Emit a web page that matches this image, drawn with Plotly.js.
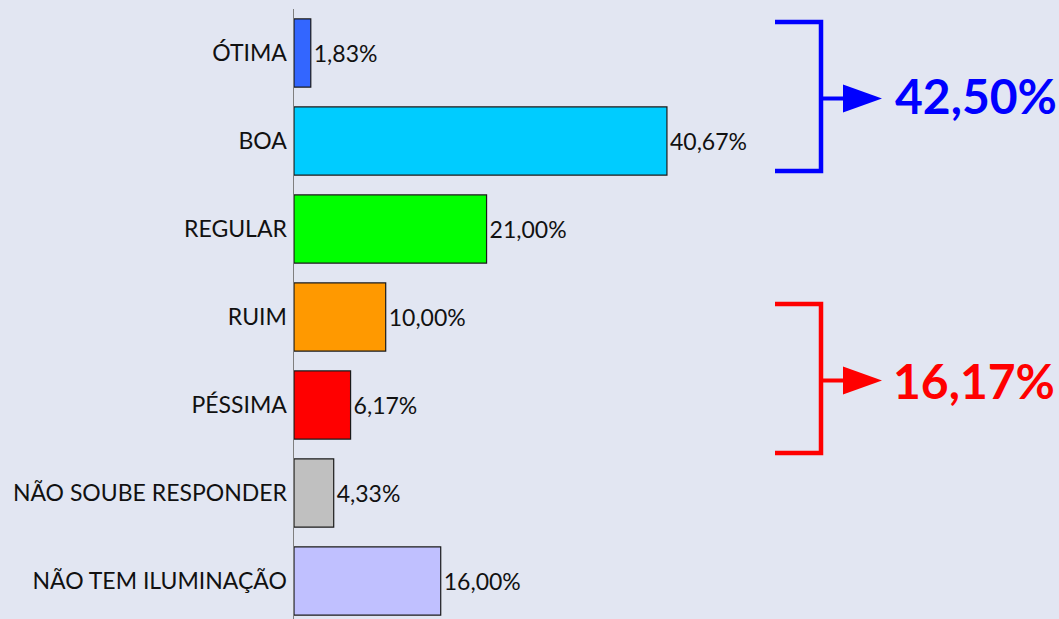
<!DOCTYPE html>
<html><head><meta charset="utf-8">
<script src="https://cdn.plot.ly/plotly-3.0.1.min.js"></script>
<style>html,body{margin:0;padding:0;background:#E2E6F2;}#c{width:1059px;height:619px;}</style>
</head><body><div id="c"></div>
<script>
const categories = ["ÓTIMA","BOA","REGULAR","RUIM","PÉSSIMA","NÃO SOUBE RESPONDER","NÃO TEM ILUMINAÇÃO"];
const values = [1.83, 40.67, 21.00, 10.00, 6.17, 4.33, 16.00];
const barColors = ["#3366FF","#00CCFF","#00FF00","#FF9900","#FF0000","#C0C0C0","#C0C0FF"];
const groupTotals = ["42,50%","16,17%"];
const groupColors = ["#0000FF","#FF0000"];

const W=1059,H=619, L=294, T=9, PW=W-L, PH=610;
const px=x=>(x-L)/PW, py=y=>1-(y-T)/PH;

const labels = values.map(v=>v.toFixed(2).replace('.',',')+'%');

const trace = {
  type:'bar', orientation:'h', y:categories, x:values,
  marker:{color:barColors, line:{color:'#1a1a1a', width:1.2}},
  text:labels, textposition:'outside', cliponaxis:false,
  textfont:{family:'Lato, sans-serif', size:23, color:'#111'},
  hoverinfo:'none', width:0.775
};

function bracket(y1,y2,col){
  const ym=(y1+y2)/2+2;
  return [
    {type:'path', xref:'paper', yref:'paper',
     path:`M ${px(775)} ${py(y1)} L ${px(821)} ${py(y1)} L ${px(821)} ${py(y2)} L ${px(775)} ${py(y2)}`,
     line:{color:col,width:4.5}},
    {type:'line', xref:'paper', yref:'paper', x0:px(821), x1:px(845), y0:py(ym), y1:py(ym), line:{color:col,width:4}},
    {type:'path', xref:'paper', yref:'paper',
     path:`M ${px(843)} ${py(ym-14)} L ${px(882)} ${py(ym)} L ${px(843)} ${py(ym+14)} Z`,
     fillcolor:col, line:{color:col,width:0}}
  ];
}
const shapes = [...bracket(22,171,groupColors[0]), ...bracket(304,453,groupColors[1])];

const annotations = [
  {xref:'paper',yref:'paper',x:px(976),y:py(95),xanchor:'center',yanchor:'middle',text:groupTotals[0],showarrow:false,
   font:{family:'Lato, sans-serif',size:48,color:groupColors[0],weight:'bold'}},
  {xref:'paper',yref:'paper',x:px(974),y:py(380),xanchor:'center',yanchor:'middle',text:groupTotals[1],showarrow:false,
   font:{family:'Lato, sans-serif',size:48,color:groupColors[1],weight:'bold'}}
];

const layout = {
  width:W,height:H, margin:{l:L,r:0,t:T,b:0},
  paper_bgcolor:'#E2E6F2', plot_bgcolor:'#E2E6F2',
  showlegend:false,
  xaxis:{range:[0, PW/9.17], visible:false, fixedrange:true},
  yaxis:{type:'category', range:[categories.length-1+ (PH/88 - categories.length) + 0.5, -0.5],
    showline:true, linecolor:'#7f7f7f', linewidth:1.5, ticks:'', showgrid:false, zeroline:false,
    ticklabelstandoff:1,
    tickfont:{family:'Lato, sans-serif', size:23, color:'#111'}},
  shapes:shapes, annotations:annotations, bargap:0.225
};
Plotly.newPlot('c',[trace],layout,{staticPlot:true});
</script></body></html>
